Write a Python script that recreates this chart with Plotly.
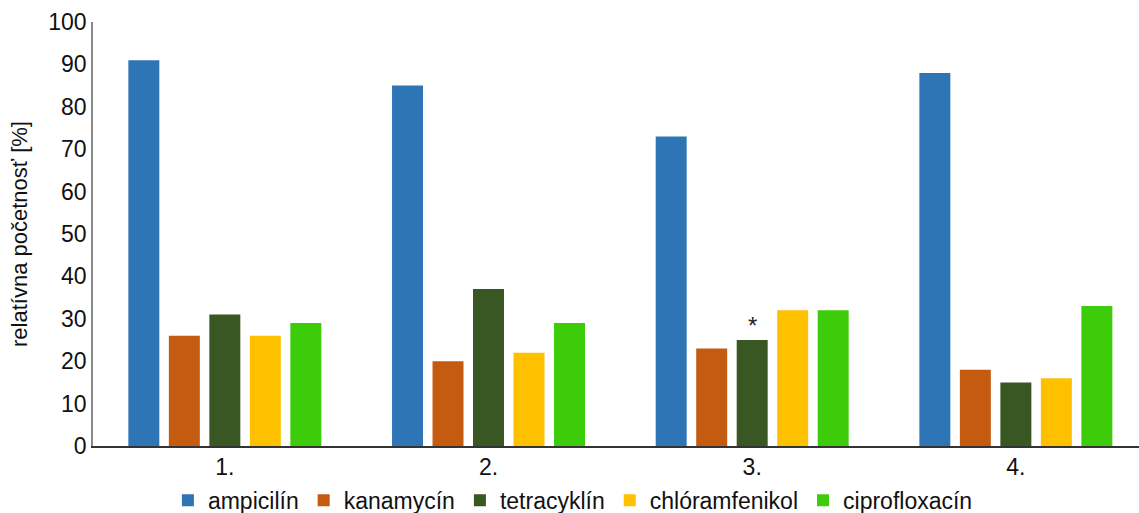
import plotly.graph_objects as go

categories = ["1.", "2.", "3.", "4."]
ampicilin = [91, 85, 73, 88]
kanamycin = [26, 20, 23, 18]
tetracyklin = [31, 37, 25, 15]
chloramfenikol = [26, 22, 32, 16]
ciprofloxacin = [29, 29, 32, 33]

series = [
    ("ampicilín", ampicilin, "#2e75b6"),
    ("kanamycín", kanamycin, "#c55a11"),
    ("tetracyklín", tetracyklin, "#385723"),
    ("chlóramfenikol", chloramfenikol, "#ffc000"),
    ("ciprofloxacín", ciprofloxacin, "#3ccc0a"),
]

fig = go.Figure()
for name, vals, color in series:
    fig.add_trace(go.Bar(name=name, x=categories, y=vals, marker_color=color,
                         marker_line_width=0))

# significance mark above the tetracyklín bar in group 3 (middle bar of the group)
fig.add_annotation(x=2, y=tetracyklin[2], xref="x", yref="y", text="*", showarrow=False,
                   yanchor="bottom", yshift=-1, font=dict(size=24, color="#222"))

fig.update_layout(
    width=1139, height=513,
    margin=dict(l=93, r=0, t=22, b=67, autoexpand=False),
    paper_bgcolor="white", plot_bgcolor="white",
    barmode="group", bargap=0.232, bargroupgap=0.235,
    font=dict(family="Liberation Sans, Arial, sans-serif", color="#111", size=23),
    showlegend=True,
    legend=dict(orientation="h", x=0.503, xref="container", xanchor="center",
                y=0.025, yref="container", yanchor="middle",
                font=dict(size=23), itemwidth=30, traceorder="normal"),
)
fig.update_xaxes(range=[-0.5, 3.467], showline=True, linecolor="#333", linewidth=1.5,
                 ticks="", showgrid=False, tickfont=dict(size=23))
fig.update_yaxes(range=[0, 100], dtick=10, showline=True, linecolor="#888", linewidth=1.5,
                 ticks="", showgrid=False, zeroline=False, tickfont=dict(size=23),
                 title=dict(text="relatívna početnosť [%]", font=dict(size=22), standoff=15))

fig.write_html("out.html")
